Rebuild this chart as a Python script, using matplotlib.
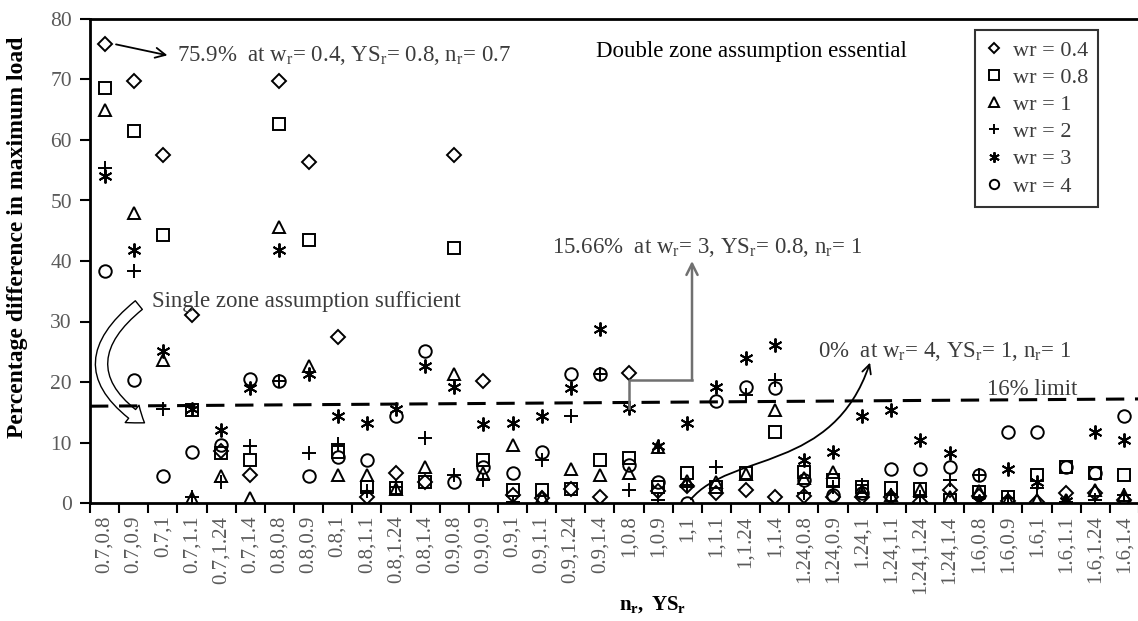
import matplotlib
matplotlib.use("Agg")
import matplotlib.pyplot as plt
from matplotlib.patches import FancyArrowPatch
from matplotlib.path import Path

plt.rcParams['font.family'] = ['Liberation Serif', 'DejaVu Serif']
plt.rcParams['mathtext.fontset'] = 'custom'
plt.rcParams['mathtext.rm'] = 'Liberation Serif'
plt.rcParams['mathtext.it'] = 'Liberation Serif:italic'
plt.rcParams['mathtext.bf'] = 'Liberation Serif:bold'

# categories: n_r, YS_r
categories = ['0.7,0.8', '0.7,0.9', '0.7,1', '0.7,1.1', '0.7,1.24', '0.7,1.4',
              '0.8,0.8', '0.8,0.9', '0.8,1', '0.8,1.1', '0.8,1.24', '0.8,1.4',
              '0.9,0.8', '0.9,0.9', '0.9,1', '0.9,1.1', '0.9,1.24', '0.9,1.4',
              '1,0.8', '1,0.9', '1,1', '1,1.1', '1,1.24', '1,1.4',
              '1.24,0.8', '1.24,0.9', '1.24,1', '1.24,1.1', '1.24,1.24', '1.24,1.4',
              '1.6,0.8', '1.6,0.9', '1.6,1', '1.6,1.1', '1.6,1.24', '1.6,1.4']

# percentage difference for each w_r
wr_04 = [75.9, 69.8, 57.5, 31.1, 8.6, 4.6, 69.8, 56.3, 27.5, 1.0, 4.9, 3.5,
         57.6, 20.2, 1.3, 0.9, 2.3, 1.0, 21.5, 2.0, 2.8, 1.6, 2.1, 1.0,
         1.1, 1.0, 1.0, 1.0, 0.1, 2.1, 1.2, 0.3, 0.2, 1.6, 1.6, 0.5]
wr_08 = [68.6, 61.5, 44.3, 15.4, 8.3, 7.1, 62.6, 43.4, 8.4, 2.7, 2.4, 3.5,
         42.2, 7.1, 2.1, 2.1, 2.3, 7.1, 7.4, 2.7, 4.9, 2.7, 5.0, 11.8,
         5.2, 3.8, 2.7, 2.4, 2.3, 0.5, 1.9, 1.0, 4.6, 6.0, 4.9, 4.6]
wr_1 = [65.0, 47.9, 23.7, 0.8, 4.5, 0.9, 45.6, 22.6, 4.6, 4.6, 2.3, 5.9,
        21.4, 4.9, 9.6, 1.0, 5.7, 4.6, 4.9, 9.3, 3.6, 3.5, 4.8, 15.4,
        4.1, 5.2, 2.0, 1.3, 2.1, 1.0, 2.0, 0.5, 0.5, 0.5, 2.1, 1.3]
wr_2 = [55.3, 38.4, 15.6, 1.0, 3.5, 9.5, 20.2, 8.2, 9.8, 2.0, 2.6, 10.7,
        4.6, 3.8, 0.2, 7.1, 14.3, 21.4, 2.1, 0.5, 3.0, 6.0, 17.9, 20.3,
        1.6, 2.7, 3.0, 1.3, 1.0, 3.8, 4.6, 0.8, 2.4, 0.2, 0.5, 1.3]
wr_3 = [54.0, 41.8, 25.1, 15.5, 12.1, 19.0, 41.8, 21.4, 14.3, 13.2, 15.6, 22.6,
        19.1, 13.1, 13.2, 14.3, 19.0, 28.7, 15.66, 9.5, 13.2, 19.2, 23.9, 26.1,
        7.1, 8.5, 14.4, 15.4, 10.4, 8.3, 0.4, 5.7, 3.5, 0.3, 11.8, 10.4]
wr_4 = [38.4, 20.3, 4.5, 8.4, 9.6, 20.5, 20.2, 4.5, 7.6, 7.1, 14.3, 25.2,
        3.5, 6.0, 4.9, 8.5, 21.4, 21.4, 6.3, 3.5, 0.0, 16.8, 19.2, 19.0,
        3.8, 1.3, 1.6, 5.7, 5.7, 6.0, 4.6, 11.8, 11.8, 6.0, 4.9, 14.3]

series = [('wr = 0.4', wr_04, 'D', 7),
          ('wr = 0.8', wr_08, 's', 9),
          ('wr = 1', wr_1, '^', 9),
          ('wr = 2', wr_2, '+', 10),
          ('wr = 3', wr_3, (6, 2, 0), 10),
          ('wr = 4', wr_4, 'o', 9)]

limit_line = [16.0, 17.2]

fig = plt.figure(figsize=(11.38, 6.21), dpi=100)
ax = fig.add_axes([90 / 1138, 1 - 503 / 621, 1049 / 1138, 484 / 621])

x = list(range(len(categories)))
for label, vals, mk, ms in series:
    ax.plot(x, vals, linestyle='none', marker=mk, markersize=ms,
            markerfacecolor='none', markeredgecolor='black',
            markeredgewidth=1.4, color='black', label=label)

ax.plot([-0.5, len(categories) - 0.5], limit_line, color='black',
        linestyle=(0, (6, 3.5)), linewidth=2.2)

ax.set_xlim(-0.5, len(categories) - 0.5)
ax.set_ylim(0, 80)
ax.set_yticks(range(0, 81, 10))
ax.set_xticks(x)
ax.set_xticklabels(categories, rotation=90, fontsize=15, color='#5a5a5a')
ax.set_xticks([i - 0.5 for i in range(len(categories) + 1)], minor=True)
ax.tick_params(axis='x', which='major', length=0, pad=9)
ax.tick_params(axis='x', which='minor', length=7, width=1.5, direction='out')
ax.tick_params(axis='y', length=7, width=1.5, direction='out',
               labelsize=15.5, labelcolor='#5a5a5a', pad=6)
for side in ['left', 'bottom', 'top']:
    ax.spines[side].set_linewidth(2)
ax.spines['right'].set_visible(False)

fig.text(0.015, 0.618, 'Percentage difference in maximum load', rotation=90,
         fontsize=17, fontweight='bold', ha='center', va='center')
fig.text(0.573, 0.027, r'$\mathbf{n_r,\ YS_r}$', fontsize=15,
         ha='center', va='center')

txt = '#3c3c3c'
fs = 16.5
ax.annotate('', xy=(2.25, 73.9), xytext=(0.3, 75.9),
            arrowprops=dict(arrowstyle='->', color='black', lw=1.3,
                            mutation_scale=18))
ax.text(2.5, 73.9, r'75.9%  at w$_\mathrm{r}$= 0.4, YS$_\mathrm{r}$= 0.8, n$_\mathrm{r}$= 0.7',
        fontsize=fs, color=txt, va='center')
ax.text(22.2, 74.7, 'Double zone assumption essential', fontsize=fs,
        color='black', ha='center', va='center')

ax.text(15.35, 42.3, r'15.66%  at w$_\mathrm{r}$= 3, YS$_\mathrm{r}$= 0.8, n$_\mathrm{r}$= 1',
        fontsize=fs, color=txt, va='center')
ax.plot([18, 18, 20.16], [15.66, 20.3, 20.3], color='#707070', lw=1.8)
ax.annotate('', xy=(20.16, 40.0), xytext=(20.16, 20.3),
            arrowprops=dict(arrowstyle='->', color='#707070', lw=1.8,
                            mutation_scale=20, shrinkA=0, shrinkB=0))

ax.text(24.48, 25.0, r'0%  at w$_\mathrm{r}$= 4, YS$_\mathrm{r}$= 1, n$_\mathrm{r}$= 1',
        fontsize=fs, color=txt, va='center')
curve = Path([(20.12, 0.6), (21.5, 8.5), (25.0, 5.0), (26.27, 23.2)],
             [Path.MOVETO, Path.CURVE4, Path.CURVE4, Path.CURVE4])
ax.add_patch(FancyArrowPatch(path=curve, arrowstyle='->', color='black',
                             lw=1.3, mutation_scale=16))

ax.text(30.3, 18.7, '16% limit', fontsize=fs, color=txt, va='center')

ax.text(1.63, 33.3, 'Single zone assumption sufficient', fontsize=fs,
        color=txt, va='center')
ax.add_patch(FancyArrowPatch((1.25, 33.0), (1.45, 13.0),
                             connectionstyle='arc3,rad=0.7',
                             arrowstyle='simple,head_length=11,head_width=16,tail_width=8',
                             mutation_scale=1, facecolor='white',
                             edgecolor='black', lw=1.0))

leg = ax.legend(loc='upper left', bbox_to_anchor=(975 / 1138, 1 - 30 / 621),
                bbox_transform=fig.transFigure, fontsize=16, frameon=True,
                fancybox=False, handlelength=0.8, handletextpad=0.45,
                labelspacing=0.3, borderpad=0.45, markerscale=0.75,
                borderaxespad=0)
leg.get_frame().set_edgecolor('black')
leg.get_frame().set_linewidth(1.5)
for t in leg.get_texts():
    t.set_color(txt)

fig.savefig('out.png', dpi=100)
